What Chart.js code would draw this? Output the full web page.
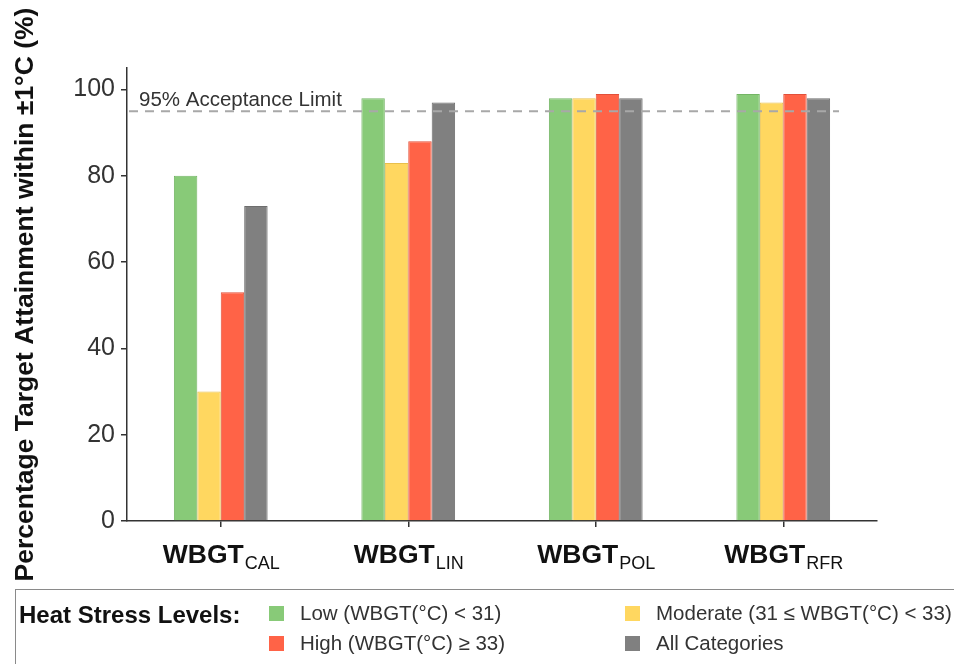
<!DOCTYPE html>
<html>
<head>
<meta charset="utf-8">
<script src="https://cdn.jsdelivr.net/npm/chart.js@4.4.1/dist/chart.umd.min.js"></script>
<style>
  html, body { margin: 0; padding: 0; background: #fff; width: 954px; height: 664px; overflow: hidden; }
  #wrap { position: absolute; left: 0; top: 0; width: 954px; height: 590px; }
  #legend { position: absolute; left: 15px; top: 589px; width: 960px; height: 90px;
    border: 1px solid #8a8a8a; box-sizing: border-box; font-family: "Liberation Sans", Arial, sans-serif; color: #222; }
  #legend .title { position: absolute; left: 3px; top: 11px; font-weight: bold; font-size: 24px; color: #111; }
  #legend .item { position: absolute; font-size: 20.5px; white-space: nowrap; color: #333; }
  #legend .sw { position: absolute; width: 15px; height: 15px; }
</style>
</head>
<body>
<div id="wrap"><canvas id="c" width="954" height="590"></canvas></div>
<div id="legend"><div class="title">Heat Stress Levels:</div></div>
<script>
const categories = ["CAL", "LIN", "POL", "RFR"];
const seriesNames = ["Low (WBGT(°C) < 31)", "Moderate (31 ≤ WBGT(°C) < 33)", "High (WBGT(°C) ≥ 33)", "All Categories"];
const lowValues = [80, 98, 98, 99];
const moderateValues = [30, 83, 98, 97];
const highValues = [53, 88, 99, 99];
const allValues = [73, 97, 98, 98];
const yTicks = [0, 20, 40, 60, 80, 100];
const acceptanceLimit = 95;
const acceptanceLabel = "95% Acceptance Limit";
const yTitle = "Percentage Target Attainment within ±1°C (%)";

const colors = ["#88CA78", "#FFD760", "#FF6347", "#808080"];
const borders = ["#74b565", "#e8bf4c", "#e2503a", "#6e6e6e"];
const values = [lowValues, moderateValues, highValues, allValues];

const FONT = '"Liberation Sans", Arial, sans-serif';

const datasets = values.map((v, i) => ({
  label: seriesNames[i],
  data: v,
  backgroundColor: colors[i],
  borderColor: borders[i],
  borderWidth: 1,
  categoryPercentage: 0.5,
  barPercentage: 1.0
}));

const extras = {
  id: 'extras',
  afterDatasetsDraw(chart) {
    const ctx = chart.ctx, ca = chart.chartArea, y = chart.scales.y, x = chart.scales.x;
    const py = y.getPixelForValue(acceptanceLimit);
    ctx.save();
    ctx.strokeStyle = '#a8a8a8';
    ctx.lineWidth = 2;
    ctx.setLineDash([9, 7]);
    ctx.beginPath();
    ctx.moveTo(ca.left + 2, py);
    ctx.lineTo(ca.right - 38, py);
    ctx.stroke();
    ctx.setLineDash([]);
    ctx.fillStyle = '#333';
    ctx.font = '20.5px ' + FONT;
    ctx.textBaseline = 'alphabetic';
    ctx.textAlign = 'left';
    ctx.fillText(acceptanceLabel, ca.left + 12, py - 5);
    // x labels with subscripts
    categories.forEach((c, i) => {
      const cx = x.getPixelForValue(i);
      ctx.font = 'bold 26.5px ' + FONT;
      const w1 = ctx.measureText('WBGT').width;
      ctx.font = '18px ' + FONT;
      const w2 = ctx.measureText(c).width;
      const start = cx - (w1 + w2) / 2;
      ctx.fillStyle = '#111';
      ctx.font = 'bold 26.5px ' + FONT;
      ctx.fillText('WBGT', start, 563);
      ctx.font = '18px ' + FONT;
      ctx.fillText(c, start + w1 + 1, 569);
    });
    ctx.restore();
  }
};

const chart = new Chart(document.getElementById('c'), {
  type: 'bar',
  data: { labels: categories, datasets },
  options: {
    responsive: false,
    animation: false,
    events: [],
    layout: { padding: { top: 68, right: 77, left: 0, bottom: 0 } },
    plugins: { legend: { display: false }, tooltip: { enabled: false } },
    scales: {
      x: {
        grid: { display: true, drawOnChartArea: false, drawTicks: true, tickLength: 6, offset: false, color: '#333', lineWidth: 1.5 },
        border: { display: true, color: '#333', width: 1.5 },
        ticks: { callback: () => '', padding: 0, font: { size: 1 } },
        afterFit(s) { s.height = 69; }
      },
      y: {
        min: 0, max: 105,
        afterBuildTicks(s) { s.ticks = yTicks.map(v => ({ value: v })); },
        grid: { display: true, drawOnChartArea: false, drawTicks: true, tickLength: 6, color: '#333', lineWidth: 1.5 },
        border: { display: true, color: '#333', width: 1.5 },
        ticks: { color: '#333', font: { family: FONT, size: 25 }, padding: 6 },
        title: { display: true, text: yTitle, color: '#111', font: { family: FONT, size: 26.5, weight: 'bold' }, padding: { top: 10, bottom: 0 } },
        afterFit(s) { s.width = 127; }
      }
    }
  },
  plugins: [extras]
});

// HTML legend built from datasets
const legend = document.getElementById('legend');
const pos = [[253, 14], [609, 14], [253, 44], [609, 44]];
datasets.forEach((d, i) => {
  const sw = document.createElement('div');
  sw.className = 'sw';
  sw.style.left = pos[i][0] + 'px';
  sw.style.top = (pos[i][1] + 2) + 'px';
  sw.style.background = d.backgroundColor;
  legend.appendChild(sw);
  const t = document.createElement('div');
  t.className = 'item';
  t.textContent = d.label;
  t.style.left = (pos[i][0] + 31) + 'px';
  t.style.top = (pos[i][1] - 3) + 'px';
  legend.appendChild(t);
});
</script>
</body>
</html>
